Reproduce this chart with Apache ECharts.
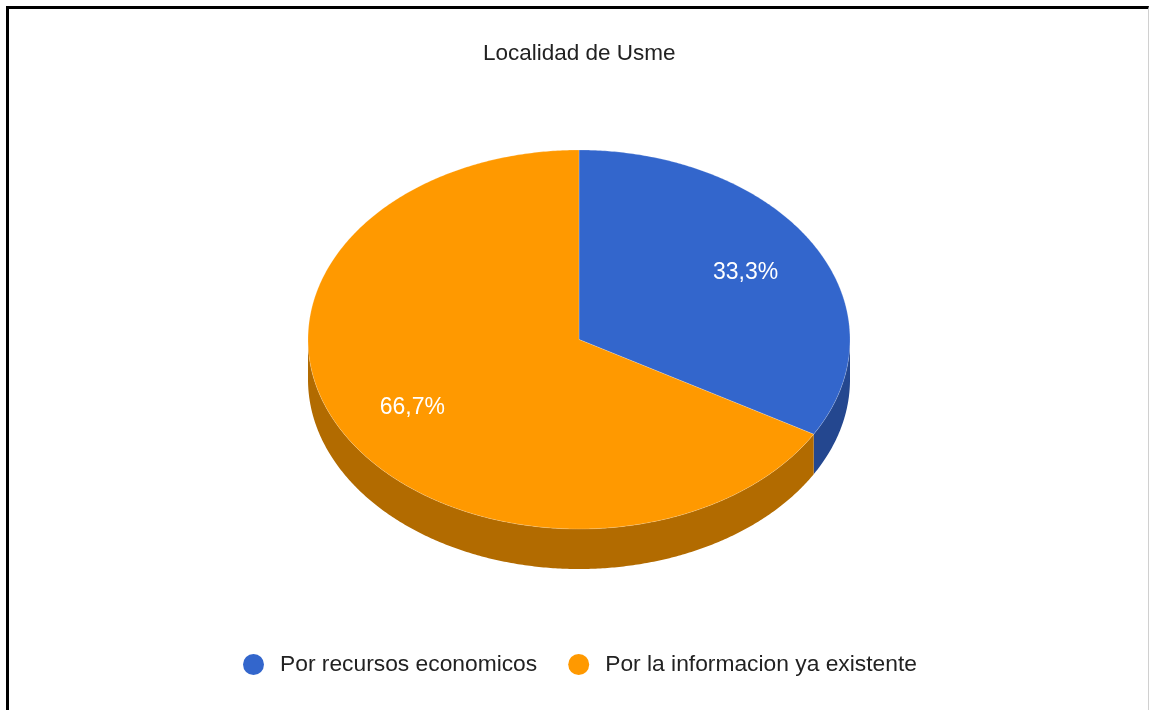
<!DOCTYPE html>
<html>
<head>
<meta charset="utf-8">
<script src="https://cdn.jsdelivr.net/npm/echarts@6/dist/echarts.min.js"></script>
<style>
  html, body { margin: 0; padding: 0; background: #fff; }
  #chart { position: absolute; left: 0; top: 0; width: 1149px; height: 710px; }
  #frame {
    position: absolute; left: 6px; top: 6px; right: 0; bottom: 0;
    border-top: 3px solid #000; border-left: 3px solid #000;
    border-right: 1px solid #d0d0d0; pointer-events: none;
  }
</style>
</head>
<body>
<div id="chart"></div>
<div id="frame"></div>
<script>
// Chart data
const titleText = 'Localidad de Usme';
const categories = ['Por recursos economicos', 'Por la informacion ya existente'];
const values = [1, 2];
const topColors = ['#3366cc', '#ff9900'];
const sideColors = ['#24478f', '#b26b00'];

const total = values.reduce((a, b) => a + b, 0);
const starts = [];
values.reduce((acc, v) => { starts.push(acc); return acc + v; }, 0);

// Tilted pie geometry (angles measured clockwise from 12 o'clock)
const geo = { cx: 579, cy: 339.5, rx: 271, ry: 189.5, depth: 40, labelR: 0.71 };

function pt(deg, r, dy) {
  const a = deg * Math.PI / 180;
  return [geo.cx + geo.rx * r * Math.sin(a), geo.cy - geo.ry * r * Math.cos(a) + (dy || 0)];
}

function arc(a0, a1, dy) {
  const pts = [];
  const n = Math.max(2, Math.ceil(Math.abs(a1 - a0) / 0.5));
  for (let k = 0; k <= n; k++) pts.push(pt(a0 + (a1 - a0) * k / n, 1, dy));
  return pts;
}

function fmtPct(p) {
  return p.toFixed(1).replace('.', ',') + '%';
}

const FONT = 'Arial, "Liberation Sans", sans-serif';

const series = categories.map((name, i) => ({
  type: 'custom',
  name: name,
  coordinateSystem: 'none',
  itemStyle: { color: topColors[i] },
  data: [values[i]],
  renderItem: function (params, api) {
    const v = api.value(0);
    const a0 = starts[i] / total * 360;
    const a1 = a0 + v / total * 360;
    const children = [];
    // outer wall: only the front half (90°..270°) faces the viewer
    const s = Math.max(a0, 90), e = Math.min(a1, 270);
    if (e > s) {
      const wall = arc(s, e, 0).concat(arc(s, e, geo.depth).reverse());
      children.push({
        type: 'polygon', z2: 1,
        shape: { points: wall },
        style: { fill: sideColors[i] }
      });
    }
    // top face
    const top = [[geo.cx, geo.cy]].concat(arc(a0, a1, 0));
    children.push({
      type: 'polygon', z2: 2,
      shape: { points: top },
      style: { fill: topColors[i], stroke: 'rgba(255,255,255,0.25)', lineWidth: 0.8 }
    });
    // percentage label
    const mid = (a0 + a1) / 2;
    const lp = pt(mid, geo.labelR, 0);
    children.push({
      type: 'text', z2: 3,
      x: lp[0], y: lp[1] + 0.5,
      style: {
        text: fmtPct(v / total * 100),
        fill: '#ffffff',
        font: '23px ' + FONT,
        align: 'center', verticalAlign: 'middle'
      }
    });
    return { type: 'group', children: children };
  }
}));

const chart = echarts.init(document.getElementById('chart'), null, { renderer: 'canvas' });
chart.setOption({
  animation: false,
  backgroundColor: '#ffffff',
  title: {
    text: titleText,
    left: 483, top: 42, padding: 0,
    textStyle: { fontFamily: FONT, fontSize: 22.5, fontWeight: 'normal', color: '#222222' }
  },
  legend: {
    data: categories,
    left: 243, top: 653, padding: 0,
    icon: 'circle', itemWidth: 21, itemHeight: 21, itemGap: 31,
    selectedMode: false,
    textStyle: { fontFamily: FONT, fontSize: 22.8, color: '#222222', padding: [0, 0, 0, 11] }
  },
  series: series
});
</script>
</body>
</html>
